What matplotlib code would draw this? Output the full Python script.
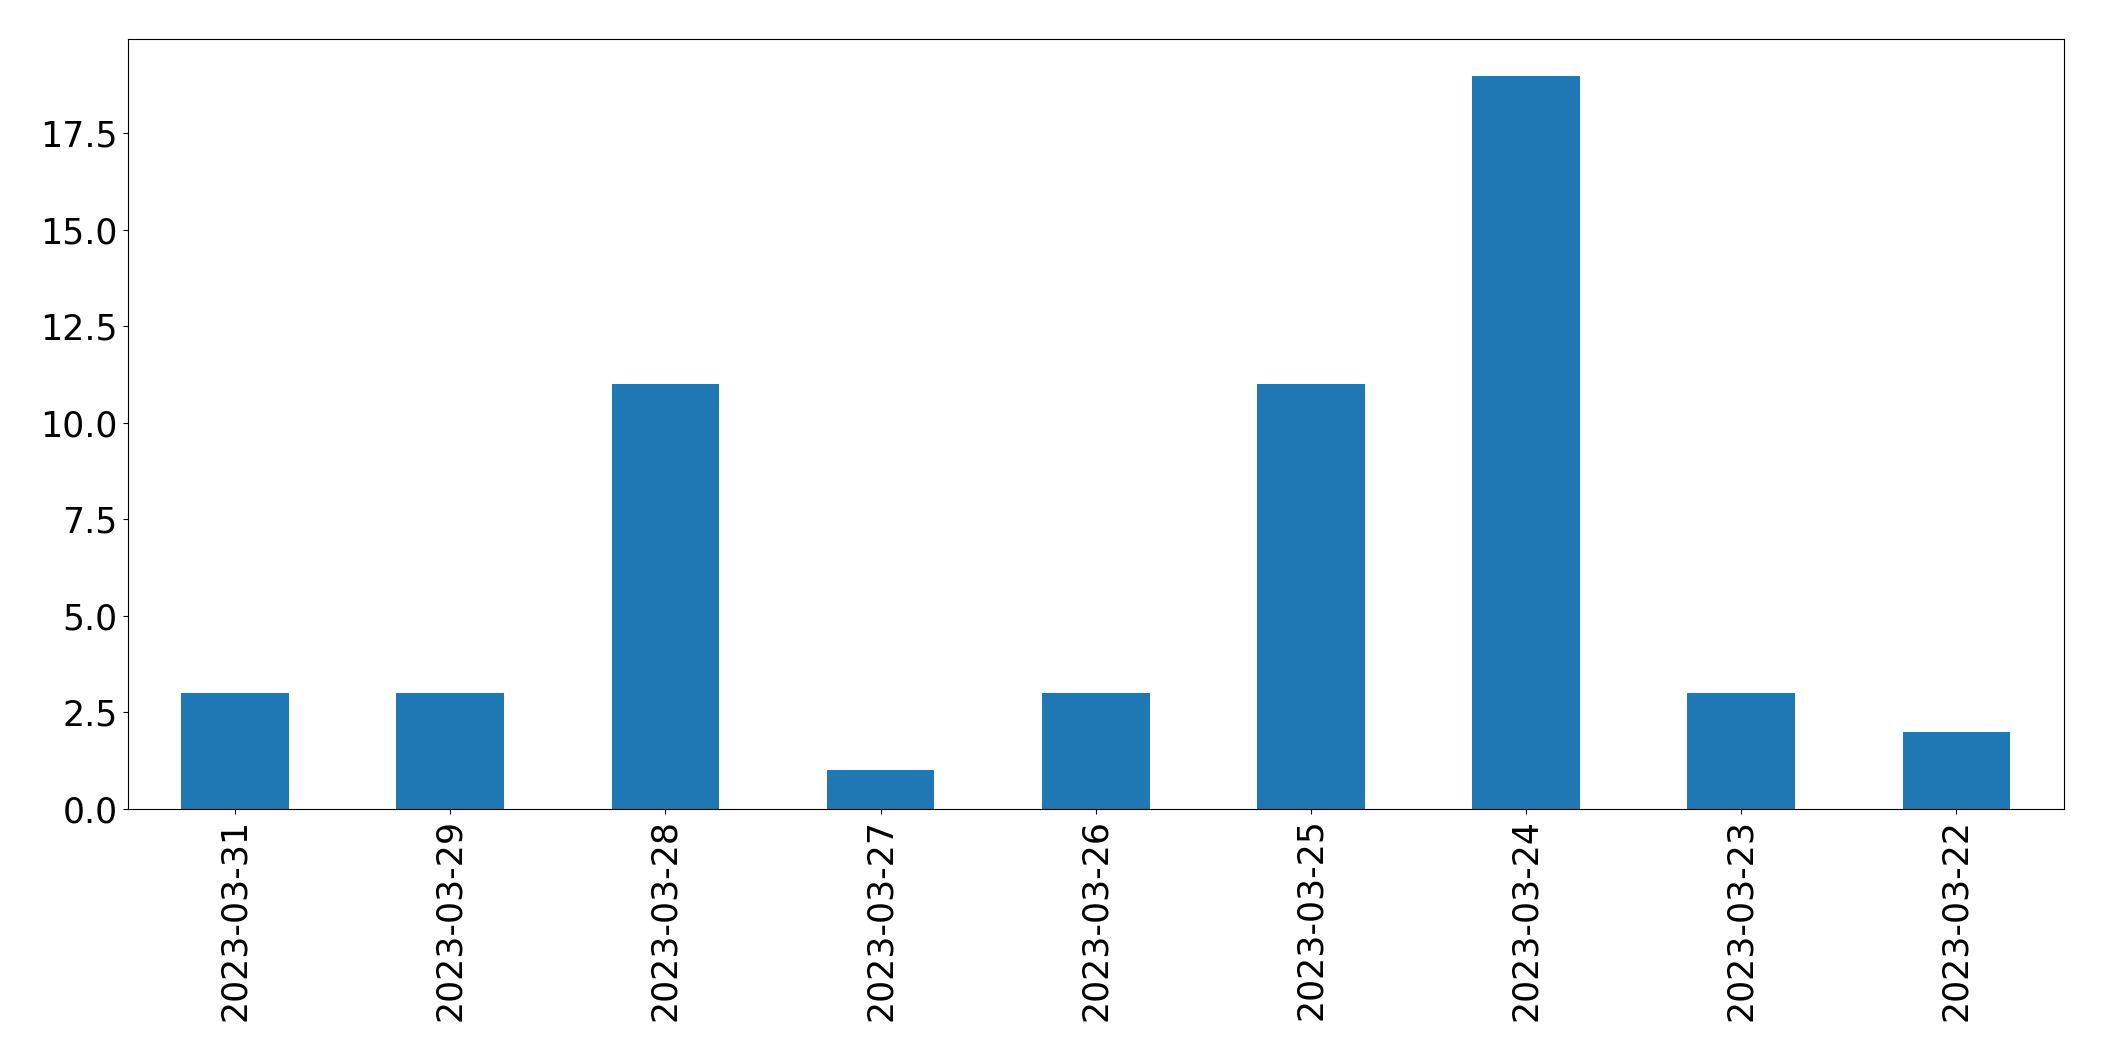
import matplotlib
matplotlib.use("Agg")
import matplotlib.pyplot as plt

# dates and counts
dates = ["2023-03-31", "2023-03-29", "2023-03-28", "2023-03-27", "2023-03-26",
         "2023-03-25", "2023-03-24", "2023-03-23", "2023-03-22"]
counts = [3, 3, 11, 1, 3, 11, 19, 3, 2]

fig = plt.figure(figsize=(21.04, 10.61), dpi=100)
ax = fig.add_axes([0.0606, 0.2377, 0.9204, 0.7256])

positions = list(range(len(dates)))
ax.bar(positions, counts, width=0.5, color="#1f77b4")
ax.set_xlim(-0.5, len(dates) - 0.5)
ax.set_ylim(0, max(counts) * 1.05)
ax.set_xticks(positions)
ax.set_xticklabels(dates, rotation=90)
ax.tick_params(axis="both", labelsize=25)

fig.savefig("out.png", dpi=100)
